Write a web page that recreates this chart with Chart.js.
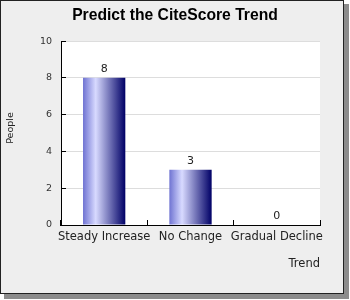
<!DOCTYPE html>
<html>
<head>
<meta charset="utf-8">
<script src="https://cdn.jsdelivr.net/npm/chart.js@4"></script>
<style>
body { margin: 0; background: #ffffff; }
</style>
</head>
<body>
<canvas id="graphiqueTendance" width="350" height="300"></canvas>
<script>
var categories = ['Steady Increase', 'No Change', 'Gradual Decline'];
var people = [8, 3, 0];
var yTicks = [0, 2, 4, 6, 8, 10];

var barPct = 0.49;

// fond gris, cadre, ombre et zone blanche
var cadre = {
    id: 'cadre',
    beforeDraw: function (chart) {
        var ctx = chart.ctx;
        var a = chart.chartArea;
        ctx.save();
        ctx.fillStyle = '#ffffff';
        ctx.fillRect(0, 0, chart.width, chart.height);
        ctx.fillStyle = '#8c8c8c';
        ctx.fillRect(4, 4, 345, 295);
        ctx.fillStyle = '#eeeeee';
        ctx.fillRect(0, 0, 344, 294);
        ctx.strokeStyle = '#222222';
        ctx.lineWidth = 1;
        ctx.strokeRect(0.5, 0.5, 343, 293);
        ctx.fillStyle = '#ffffff';
        ctx.fillRect(a.left, a.top, a.right - a.left, a.bottom - a.top);
        ctx.restore();
    },
    afterDraw: function (chart) {
        // titre de l'axe y, un peu au-dessus du centre comme dans l'original
        var ctx = chart.ctx;
        ctx.save();
        ctx.translate(10.5, 128);
        ctx.rotate(-Math.PI / 2);
        ctx.font = '9.5px "DejaVu Sans"';
        ctx.fillStyle = '#222222';
        ctx.textAlign = 'center';
        ctx.textBaseline = 'middle';
        ctx.fillText('People', 0, 0);
        ctx.restore();
    }
};

// valeurs au-dessus des barres
var etiquettes = {
    id: 'etiquettes',
    afterDatasetsDraw: function (chart) {
        var ctx = chart.ctx;
        var meta = chart.getDatasetMeta(0);
        ctx.save();
        ctx.font = '11px "DejaVu Sans"';
        ctx.fillStyle = '#222222';
        ctx.textAlign = 'center';
        ctx.textBaseline = 'alphabetic';
        meta.data.forEach(function (bar, i) {
            ctx.fillText(String(people[i]), bar.x, bar.y - 6);
        });
        ctx.restore();
    }
};

function degrade(c) {
    var chart = c.chart;
    if (!chart.chartArea || !chart.scales.x) return '#7377d4';
    var xs = chart.scales.x;
    var cx = xs.getPixelForValue(c.dataIndex);
    var half = (xs.width / categories.length) * barPct / 2;
    var g = chart.ctx.createLinearGradient(cx - half, 0, cx + half, 0);
    g.addColorStop(0, '#6f73d2');
    g.addColorStop(0.3, '#d8daff');
    g.addColorStop(1, '#000066');
    return g;
}

var ctxTendance = document.getElementById('graphiqueTendance').getContext('2d');
var graphiqueTendance = new Chart(ctxTendance, {
    type: 'bar',
    data: {
        labels: categories,
        datasets: [{
            label: 'People',
            data: people,
            backgroundColor: degrade,
            borderWidth: 0,
            barPercentage: barPct,
            categoryPercentage: 1
        }]
    },
    options: {
        responsive: false,
        animation: false,
        layout: { padding: 0 },
        plugins: {
            legend: { display: false },
            tooltip: { enabled: false },
            title: {
                display: true,
                text: 'Predict the CiteScore Trend',
                color: '#000000',
                font: { family: '"Liberation Sans", Arial, sans-serif', size: 15.7, weight: 'bold' },
                padding: { top: 6.6, bottom: 15.6 }
            }
        },
        scales: {
            x: {
                grid: { drawOnChartArea: false, color: '#000000', tickColor: '#000000', tickLength: -5, offset: true },
                border: { color: '#000000', width: 1 },
                ticks: {
                    color: '#222222',
                    padding: 10,
                    maxRotation: 0,
                    autoSkip: false,
                    font: { family: '"DejaVu Sans"', size: 11.5 }
                },
                title: {
                    display: true,
                    text: 'Trend',
                    align: 'end',
                    color: '#222222',
                    font: { family: '"DejaVu Sans"', size: 11.5 },
                    padding: { top: 0, bottom: 29 }
                },
                afterFit: function (scale) { scale.height = 75; }
            },
            y: {
                min: 0,
                max: 10,
                afterBuildTicks: function (scale) {
                    scale.ticks = yTicks.map(function (v) { return { value: v }; });
                },
                grid: { color: '#dddddd', tickColor: '#000000', tickLength: -5 },
                border: { color: '#000000', width: 1 },
                ticks: {
                    color: '#333333',
                    padding: 14,
                    font: { family: '"DejaVu Sans"', size: 9.5 }
                },
                afterFit: function (scale) { scale.width = 61; }
            },
            droite: {
                position: 'right',
                display: true,
                grid: { display: false },
                border: { display: false },
                ticks: { display: false },
                afterFit: function (scale) { scale.width = 30; }
            }
        }
    },
    plugins: [cadre, etiquettes]
});
</script>
</body>
</html>
